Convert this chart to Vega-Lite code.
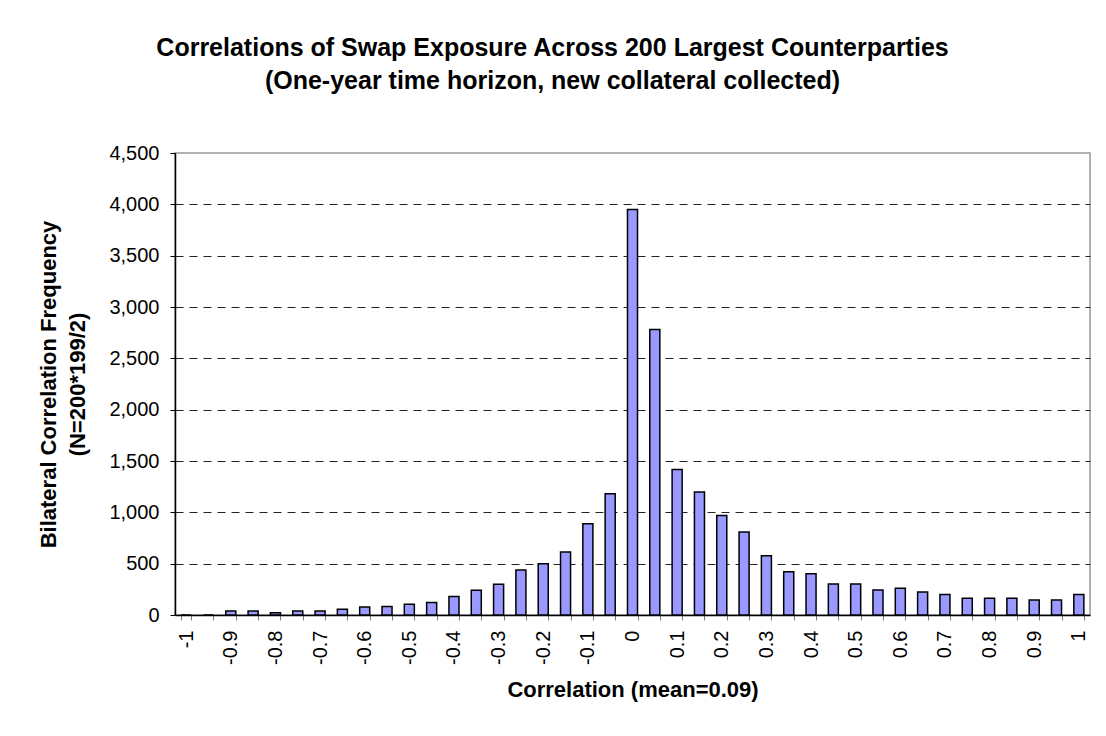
{
  "$schema": "https://vega.github.io/schema/vega-lite/v6.json",
  "autosize": "none",
  "width": 915,
  "height": 462,
  "padding": {"left": 175, "top": 153, "right": 16, "bottom": 121},
  "background": "white",
  "title": {
    "text": ["Correlations of Swap Exposure Across 200 Largest Counterparties", "(One-year time horizon, new collateral collected)"],
    "font": "Liberation Sans",
    "fontSize": 25,
    "fontWeight": "bold",
    "color": "black",
    "anchor": "middle",
    "frame": "group",
    "dx": -80,
    "offset": 49,
    "lineHeight": 33
  },
  "config": {"view": {"stroke": "#999999", "strokeWidth": 1.5}},
  "data": {"values": [
    {"corr": -1, "freq": 0},
    {"corr": -0.95, "freq": 0},
    {"corr": -0.9, "freq": 40},
    {"corr": -0.85, "freq": 40},
    {"corr": -0.8, "freq": 22},
    {"corr": -0.75, "freq": 40},
    {"corr": -0.7, "freq": 40},
    {"corr": -0.65, "freq": 57},
    {"corr": -0.6, "freq": 78},
    {"corr": -0.55, "freq": 82},
    {"corr": -0.5, "freq": 105},
    {"corr": -0.45, "freq": 122},
    {"corr": -0.4, "freq": 180},
    {"corr": -0.35, "freq": 240},
    {"corr": -0.3, "freq": 300},
    {"corr": -0.25, "freq": 438},
    {"corr": -0.2, "freq": 500},
    {"corr": -0.15, "freq": 614},
    {"corr": -0.1, "freq": 890},
    {"corr": -0.05, "freq": 1180},
    {"corr": 0, "freq": 3950},
    {"corr": 0.05, "freq": 2780},
    {"corr": 0.1, "freq": 1418},
    {"corr": 0.15, "freq": 1197},
    {"corr": 0.2, "freq": 968},
    {"corr": 0.25, "freq": 809},
    {"corr": 0.3, "freq": 578},
    {"corr": 0.35, "freq": 422},
    {"corr": 0.4, "freq": 402},
    {"corr": 0.45, "freq": 302},
    {"corr": 0.5, "freq": 302},
    {"corr": 0.55, "freq": 244},
    {"corr": 0.6, "freq": 260},
    {"corr": 0.65, "freq": 223},
    {"corr": 0.7, "freq": 200},
    {"corr": 0.75, "freq": 162},
    {"corr": 0.8, "freq": 162},
    {"corr": 0.85, "freq": 162},
    {"corr": 0.9, "freq": 145},
    {"corr": 0.95, "freq": 145},
    {"corr": 1, "freq": 200}
  ]},
  "mark": {"type": "bar", "color": "#9999FF", "stroke": "black", "strokeWidth": 1.5},
  "encoding": {
    "x": {
      "field": "corr",
      "type": "ordinal",
      "sort": null,
      "scale": {"paddingInner": 0.55, "paddingOuter": 0.275},
      "axis": {
        "title": "Correlation (mean=0.09)",
        "labelAngle": -90,
        "labelAlign": "right",
        "labelBaseline": "middle",
        "labelExpr": "abs(round(datum.value*100)) % 10 == 0 ? datum.label : ''",
        "tickBand": "extent",
        "tickSize": 5,
        "tickColor": "#808080",
        "domainColor": "black",
        "domainWidth": 1.5,
        "labelPadding": 10,
        "labelFont": "Liberation Sans",
        "labelFontSize": 20,
        "labelColor": "black",
        "titleFont": "Liberation Sans",
        "titleFontSize": 22,
        "titleFontWeight": "bold",
        "titleColor": "black",
        "titlePadding": 15,
        "grid": false
      }
    },
    "y": {
      "field": "freq",
      "type": "quantitative",
      "scale": {"domain": [0, 4500], "nice": false},
      "axis": {
        "values": [0, 500, 1000, 1500, 2000, 2500, 3000, 3500, 4000, 4500],
        "format": ",.0f",
        "grid": true,
        "gridDash": [8, 6],
        "gridColor": "#222222",
        "gridOpacity": {"condition": {"test": "datum.value >= 4500 || datum.value <= 0", "value": 0}, "value": 1},
        "domainColor": "black",
        "domainWidth": 1.5,
        "tickColor": "black",
        "tickSize": 5,
        "labelPadding": 11,
        "labelFont": "Liberation Sans",
        "labelFontSize": 20,
        "labelColor": "black",
        "title": ["Bilateral Correlation Frequency", "(N=200*199/2)"],
        "titleFont": "Liberation Sans",
        "titleFontSize": 22,
        "titleFontWeight": "bold",
        "titleColor": "black",
        "titlePadding": 19,
        "titleLineHeight": 29
      }
    }
  }
}
